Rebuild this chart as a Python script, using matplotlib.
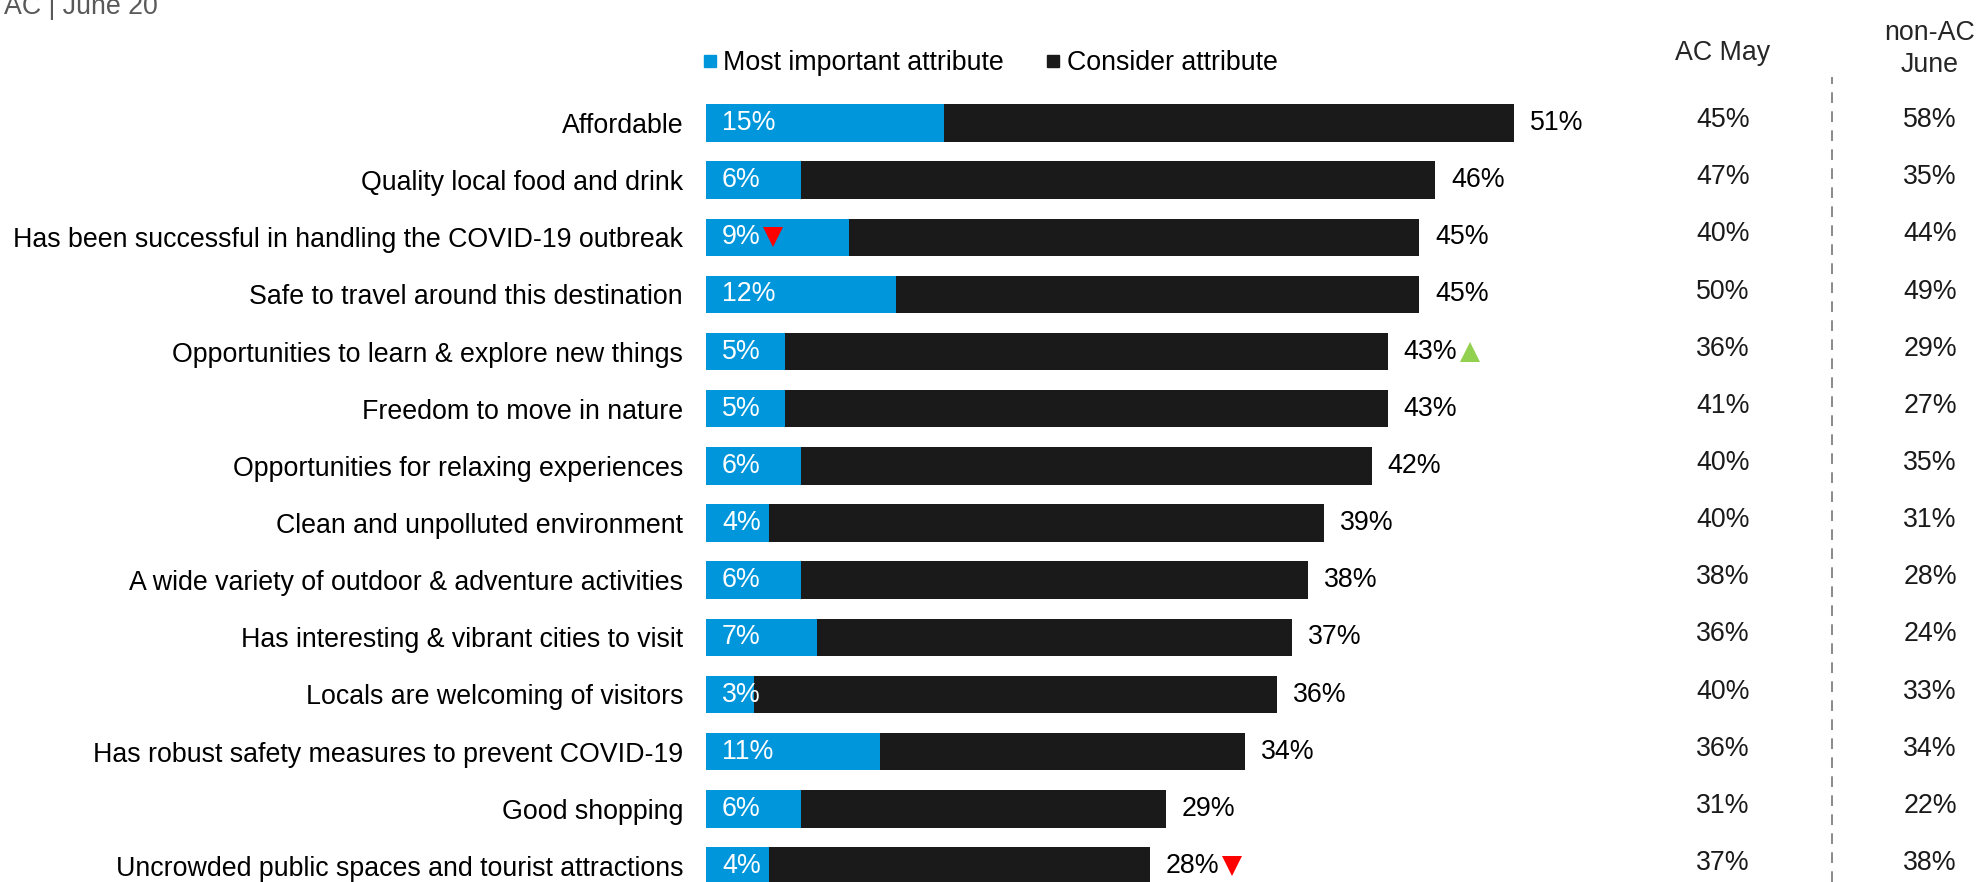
import matplotlib
matplotlib.use("Agg")
import matplotlib.pyplot as plt
from matplotlib.lines import Line2D
from matplotlib.transforms import blended_transform_factory

plt.rcParams['font.family'] = ['Liberation Sans', 'DejaVu Sans']

categories = [
    "Affordable",
    "Quality local food and drink",
    "Has been successful in handling the COVID-19 outbreak",
    "Safe to travel around this destination",
    "Opportunities to learn & explore new things",
    "Freedom to move in nature",
    "Opportunities for relaxing experiences",
    "Clean and unpolluted environment",
    "A wide variety of outdoor & adventure activities",
    "Has interesting & vibrant cities to visit",
    "Locals are welcoming of visitors",
    "Has robust safety measures to prevent COVID-19",
    "Good shopping",
    "Uncrowded public spaces and tourist attractions",
]
most_important = [15, 6, 9, 12, 5, 5, 6, 4, 6, 7, 3, 11, 6, 4]
consider = [51, 46, 45, 45, 43, 43, 42, 39, 38, 37, 36, 34, 29, 28]
ac_may = [45, 47, 40, 50, 36, 41, 40, 40, 38, 36, 40, 36, 31, 37]
nonac_june = [58, 35, 44, 49, 29, 27, 35, 31, 28, 24, 33, 34, 22, 38]
# significance markers: (row, which label, direction)
markers_most = {2: 'down'}
markers_consider = {4: 'up', 13: 'down'}

BLUE = '#0096DC'
BLACK = '#1A1A1A'
RED = '#FF0000'
GREEN = '#92D050'
FS = 19.3

W, H = 1983, 882
fig = plt.figure(figsize=(W / 100, H / 100), dpi=100)

row_px = 57.15
first_px = 123
top_px = 90
ax_left, ax_right = 706, 1650
ax = fig.add_axes([ax_left / W, 0, (ax_right - ax_left) / W, (H - top_px) / H])
px_per_pct = 15.85
ax.set_xlim(0, (ax_right - ax_left) / px_per_pct)
ax.set_ylim((H - first_px) / row_px, (top_px - first_px) / row_px)

y = list(range(len(categories)))
bh = 0.655
ax.barh(y, consider, height=bh, color=BLACK, zorder=2)
ax.barh(y, most_important, height=bh, color=BLUE, zorder=3)

ax.set_yticks(y)
ax.set_yticklabels(categories, fontsize=FS, color='black')
ax.tick_params(axis='y', length=0, pad=16.5)
ax.set_xticks([])
for s in ax.spines.values():
    s.set_visible(False)

most_labels = []
cons_labels = []
for i in y:
    t1 = ax.annotate(f"{most_important[i]}%", xy=(0, i), xytext=(11.5, 0),
                     textcoords='offset points', ha='left', va='center',
                     fontsize=FS, color='white', zorder=4)
    t2 = ax.annotate(f"{consider[i]}%", xy=(consider[i], i), xytext=(11.5, 0),
                     textcoords='offset points', ha='left', va='center',
                     fontsize=FS, color='black', zorder=4)
    most_labels.append(t1)
    cons_labels.append(t2)

# right-hand columns
tr = blended_transform_factory(fig.transFigure, ax.transData)
col1_x = 1723 / W
col2_x = 1930 / W
for i in y:
    ax.text(col1_x, i - 0.05, f"{ac_may[i]}%", transform=tr, ha='center', va='center',
            fontsize=FS, color='#1A1A1A', clip_on=False)
    ax.text(col2_x, i - 0.05, f"{nonac_june[i]}%", transform=tr, ha='center', va='center',
            fontsize=FS, color='#1A1A1A', clip_on=False)

fig.text(col1_x, 1 - 53 / H, "AC May", ha='center', va='center', fontsize=FS, color='#262626')
fig.text(col2_x, 1 - 49 / H, "non-AC\nJune", ha='center', va='center', fontsize=FS,
         color='#262626', linespacing=1.28)

# dashed separator
fig.add_artist(Line2D([1832 / W, 1832 / W], [0, 1 - 77 / H], transform=fig.transFigure,
                      color='#8C8C8C', lw=1.44, linestyle=(0, (5.35, 4.15))))

# title fragment (cropped at left edge)
fig.text(158 / W, 1 - 14 / H, "AC | June 20", ha='right', va='baseline',
         fontsize=FS, color='#595959')

# legend
handles = [
    Line2D([], [], marker='s', linestyle='none', markersize=9, color=BLUE),
    Line2D([], [], marker='s', linestyle='none', markersize=9, color=BLACK),
]
fig.legend(handles, ["Most important attribute", "Consider attribute"],
           loc='center left', bbox_to_anchor=(703 / W, 1 - 63 / H), ncol=2,
           frameon=False, fontsize=FS, handlelength=0.5, handletextpad=0.25,
           columnspacing=1.6, borderpad=0, borderaxespad=0)

# significance triangles placed right after their labels
fig.canvas.draw()
inv = ax.transData.inverted()
tri_size = 15
def place(label, direction, row):
    bb = label.get_window_extent()
    xd, _ = inv.transform((bb.x1 + 2 + tri_size * 100 / 72 / 2, 0))
    ax.plot([xd], [row], marker='v' if direction == 'down' else '^',
            markersize=tri_size, color=RED if direction == 'down' else GREEN,
            markeredgewidth=0, zorder=5, clip_on=False)

for r, d in markers_most.items():
    place(most_labels[r], d, r)
for r, d in markers_consider.items():
    place(cons_labels[r], d, r)

fig.savefig("out.png", dpi=100)
